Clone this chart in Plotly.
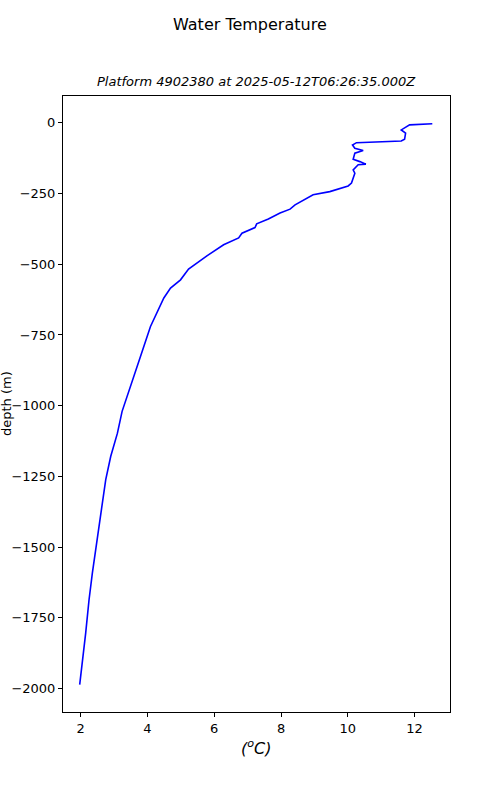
import plotly.graph_objects as go

temperature = [12.53, 11.85, 11.6, 11.73, 11.7, 11.6, 10.26, 10.14, 10.21, 10.46, 10.21, 10.16,
               10.36, 10.54, 10.31, 10.16, 10.21, 10.16, 10.11, 10.01, 9.96, 9.46, 8.96, 8.42,
               8.27, 7.97, 7.62, 7.27, 7.22, 6.83, 6.73, 6.28, 5.78, 5.23, 4.99, 4.69, 4.49,
               4.29, 4.09, 3.79, 3.49, 3.24, 3.10, 2.90, 2.75, 2.60, 2.45, 2.35, 2.25, 2.15, 1.97]
depth = [-3, -7, -25, -36, -58, -64, -70, -78, -90, -98, -107, -129,
         -137, -146, -148, -166, -178, -195, -213, -223, -225, -243, -254, -290,
         -305, -319, -340, -357, -370, -390, -407, -431, -470, -517, -555, -584, -619,
         -672, -720, -826, -932, -1020, -1097, -1179, -1261, -1379, -1497, -1591, -1686, -1803, -1986]

x_ticks = [2, 4, 6, 8, 10, 12]
y_ticks = [0, -250, -500, -750, -1000, -1250, -1500, -1750, -2000]

font = "DejaVu Sans"

fig = go.Figure()
fig.add_trace(go.Scatter(x=temperature, y=depth, mode="lines",
                         line=dict(color="blue", width=1.6), showlegend=False))

axis_common = dict(ticks="outside", ticklen=4, tickcolor="black", showline=True,
                   linecolor="black", linewidth=1, mirror=True, showgrid=False,
                   zeroline=False, automargin=False, tickfont=dict(family=font, size=13))

fig.update_layout(
    width=500, height=800,
    margin=dict(l=63, r=50, t=96, b=88, autoexpand=False),
    paper_bgcolor="white", plot_bgcolor="white",
    font=dict(family=font, size=13, color="black"),
    xaxis=dict(range=[1.47, 13.06], tickvals=x_ticks, **axis_common),
    yaxis=dict(range=[-2083, 95], tickvals=y_ticks, **axis_common),
    annotations=[
        dict(text="Water Temperature", x=0.483, xref="paper", y=1, yref="paper",
             yanchor="middle", yshift=72, showarrow=False, font=dict(family=font, size=16)),
        dict(text="<i>Platform 4902380 at 2025-05-12T06:26:35.000Z</i>", x=0.5, xref="paper",
             y=1, yref="paper", yshift=5, yanchor="bottom", showarrow=False,
             font=dict(family=font, size=13)),
        dict(text="<i>(<sup>o</sup>C)</i>", x=0.5, xref="paper", y=0, yref="paper",
             yanchor="middle", yshift=-35, showarrow=False, font=dict(family=font, size=16)),
        dict(text="depth (m)", x=0, xref="paper", y=0.5, yref="paper", textangle=-90,
             xanchor="center", xshift=-57, showarrow=False, font=dict(family=font, size=13)),
    ],
)

fig.write_html("out.html", config={"displayModeBar": False},
               post_script="document.body.style.margin='0';")
